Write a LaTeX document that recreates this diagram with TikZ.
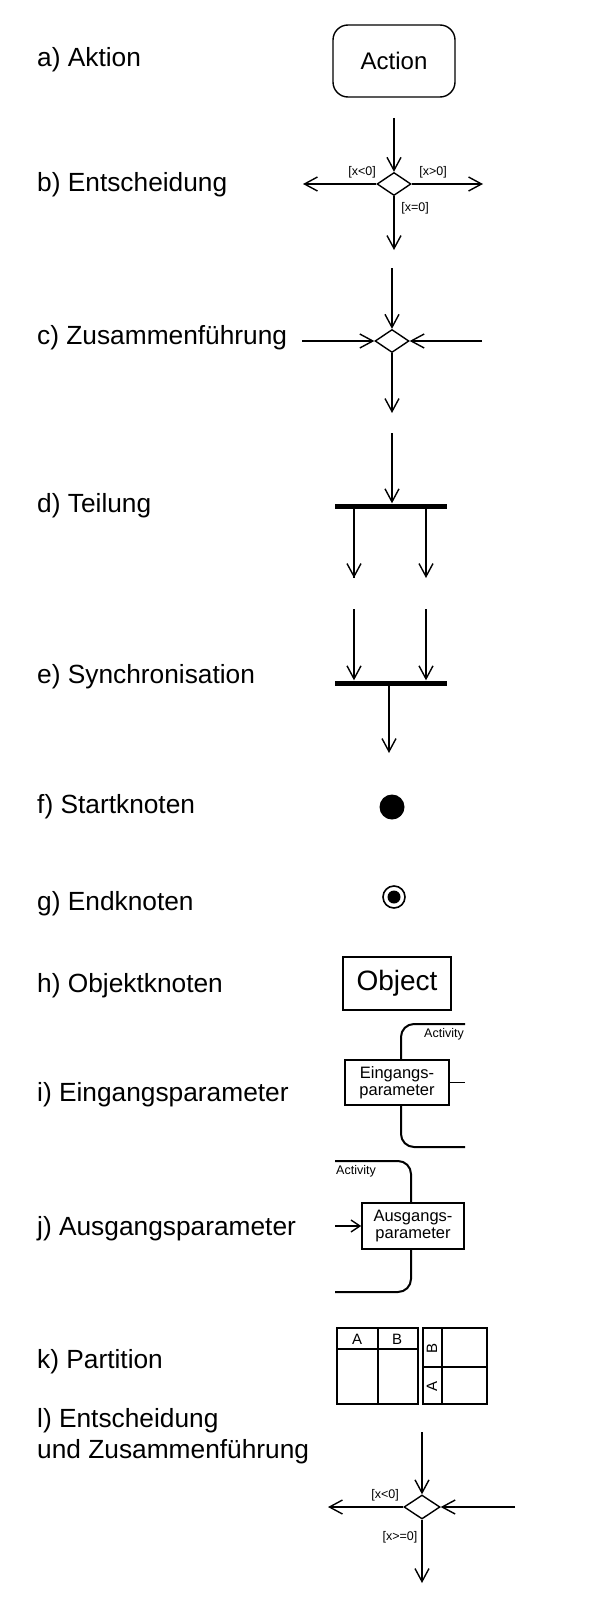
\documentclass[tikz,border=0pt]{standalone}
\usepackage{fontspec}
\setmainfont{Liberation Sans}
\usetikzlibrary{arrows.meta,shapes.geometric}
\begin{document}
\begin{tikzpicture}[x=1pt,y=-1pt,
  lbl/.style={anchor=base west,inner sep=0,font=\fontsize{26.3}{30}\selectfont},
  ln/.style={line width=1.4pt},
  arr/.style={ln,-{Straight Barb[length=13pt,width=14pt]}},
  sarr/.style={ln,-{Straight Barb[length=9pt,width=12pt]}},
  dia/.style={draw,ln,shape=diamond,inner sep=0,minimum width=34pt,minimum height=23pt},
  guard/.style={inner sep=0,font=\fontsize{12.5}{14}\selectfont},
  bar/.style={fill=black,inner sep=0,minimum width=112pt,minimum height=5pt},
  frame/.style={line width=2pt,rounded corners=13pt},
  pbox/.style={draw,fill=white,line width=1.6pt,inner sep=0,align=center,font=\fontsize{16.5}{17}\selectfont},
  part/.style={line width=2pt},
  ptxt/.style={inner sep=0,font=\fontsize{15}{17}\selectfont}
]
\useasboundingbox (0,0) rectangle (600,1600);

% labels
\node[lbl] (la) at (37,67) {a) Aktion};
\node[lbl] (lb) at (37,191) {b) Entscheidung};
\node[lbl] (lc) at (37,344) {c) Zusammenführung};
\node[lbl] (ld) at (37,512) {d) Teilung};
\node[lbl] (le) at (37,683) {e) Synchronisation};
\node[lbl] (lf) at (37,813) {f) Startknoten};
\node[lbl] (lg) at (37,910) {g) Endknoten};
\node[lbl] (lh) at (37,992) {h) Objektknoten};
\node[lbl] (li) at (37,1101) {i) Eingangsparameter};
\node[lbl] (lj) at (37,1235) {j) Ausgangsparameter};
\node[lbl] (lk) at (37,1368) {k) Partition};
\node[lbl] (ll1) at (37,1427) {l) Entscheidung};
\node[lbl] (ll2) at (37,1458) {und Zusammenführung};

% a) action
\node[draw,ln,rounded corners=15pt,minimum width=122pt,minimum height=72pt,inner sep=0,
      font=\fontsize{24}{28}\selectfont] (a) at (394,61) {Action};

% b) decision
\node[dia] (b) at (394,184) {};
\coordinate (bin) at (394,118);
\coordinate (bl) at (303,184);
\coordinate (br) at (483,184);
\coordinate (bd) at (394,250);
\draw[arr] (bin) -- (b.north);
\draw[arr] (b.west) -- (bl);
\draw[arr] (b.east) -- (br);
\draw[arr] (b.south) -- (bd);
\node[guard] (g1) at (362,172) {[x<0]};
\node[guard] (g2) at (433,172) {[x>0]};
\node[guard] (g3) at (415,208) {[x=0]};

% c) merge
\node[dia] (c) at (392,341) {};
\coordinate (cin) at (392,268);
\coordinate (cl) at (302,341);
\coordinate (cr) at (482,341);
\coordinate (cd) at (392,413);
\draw[arr] (cin) -- (c.north);
\draw[arr] (cl) -- (c.west);
\draw[arr] (cr) -- (c.east);
\draw[arr] (c.south) -- (cd);

% d) fork
\node[bar] (d) at (391,506) {};
\coordinate (din) at (392,433);
\coordinate (dl) at (354,578);
\coordinate (dr) at (426,578);
\draw[arr] (din) -- (din |- d.north);
\draw[ln] (dl |- d.south) -- (dl);
\draw[arr] (dl |- d.south) -- (dl);
\draw[arr] (dr |- d.south) -- (dr);

% e) join
\node[bar] (e) at (391,683) {};
\coordinate (el) at (354,609);
\coordinate (er) at (426,609);
\coordinate (ed) at (389,753);
\draw[arr] (el) -- (el |- e.north);
\draw[arr] (er) -- (er |- e.north);
\draw[arr] (ed |- e.south) -- (ed);

% f) start
\node[circle,fill=black,inner sep=0,minimum size=25pt] (f) at (392,807) {};

% g) end
\node[circle,draw,line width=1.6pt,inner sep=0,minimum size=22pt] (g) at (394,897) {};
\node[circle,fill=black,inner sep=0,minimum size=13pt] (gi) at (394,897) {};

% h) object
\node[draw,ln,minimum width=108pt,minimum height=53pt,inner sep=0,
      font=\fontsize{28}{32}\selectfont] (h) at (397,983.5) {Object};

% i) input parameter
\draw[frame] (465,1024) -- (401,1024) -- (401,1147) -- (465,1147);
\node[pbox,minimum width=104pt,minimum height=45pt] (ib) at (397,1082.5) {Eingangs-\\parameter};
\coordinate (ie) at (465,1082.5);
\draw[ln] (ib.east) -- (ie);
\node[inner sep=0,anchor=east,font=\fontsize{12.5}{14}\selectfont] (iact) at (464,1034) {Activity};

% j) output parameter
\draw[frame] (335,1161) -- (411,1161) -- (411,1292) -- (335,1292);
\node[pbox,minimum width=102pt,minimum height=46pt] (jb) at (413,1226) {Ausgangs-\\parameter};
\coordinate (jin) at (335,1226);
\draw[sarr] (jin) -- (jb.west);
\node[inner sep=0,anchor=west,font=\fontsize{12.5}{14}\selectfont] (jact) at (336,1171) {Activity};

% k) partition
\draw[part] (337,1328) rectangle (418,1404);
\draw[part] (378,1328) -- (378,1404);
\draw[part] (337,1349) -- (418,1349);
\node[ptxt] (pa) at (357,1339) {A};
\node[ptxt] (pb) at (397,1339) {B};
\draw[part] (423,1328) rectangle (487,1404);
\draw[part] (442,1328) -- (442,1404);
\draw[part] (423,1367) -- (487,1367);
\node[ptxt,rotate=90] (pb2) at (432,1348) {B};
\node[ptxt,rotate=90] (pa2) at (432,1386) {A};

% l) decision and merge
\node[dia,minimum width=36pt,minimum height=24pt] (l) at (422,1507) {};
\coordinate (lin) at (422,1432);
\coordinate (ll) at (328,1507);
\coordinate (lr) at (515,1507);
\coordinate (ld2) at (422,1583);
\draw[arr] (lin) -- (l.north);
\draw[arr] (l.west) -- (ll);
\draw[arr] (lr) -- (l.east);
\draw[arr] (l.south) -- (ld2);
\node[guard] (g4) at (385,1495) {[x<0]};
\node[guard] (g5) at (400,1537) {[x>=0]};
\end{tikzpicture}
\end{document}
